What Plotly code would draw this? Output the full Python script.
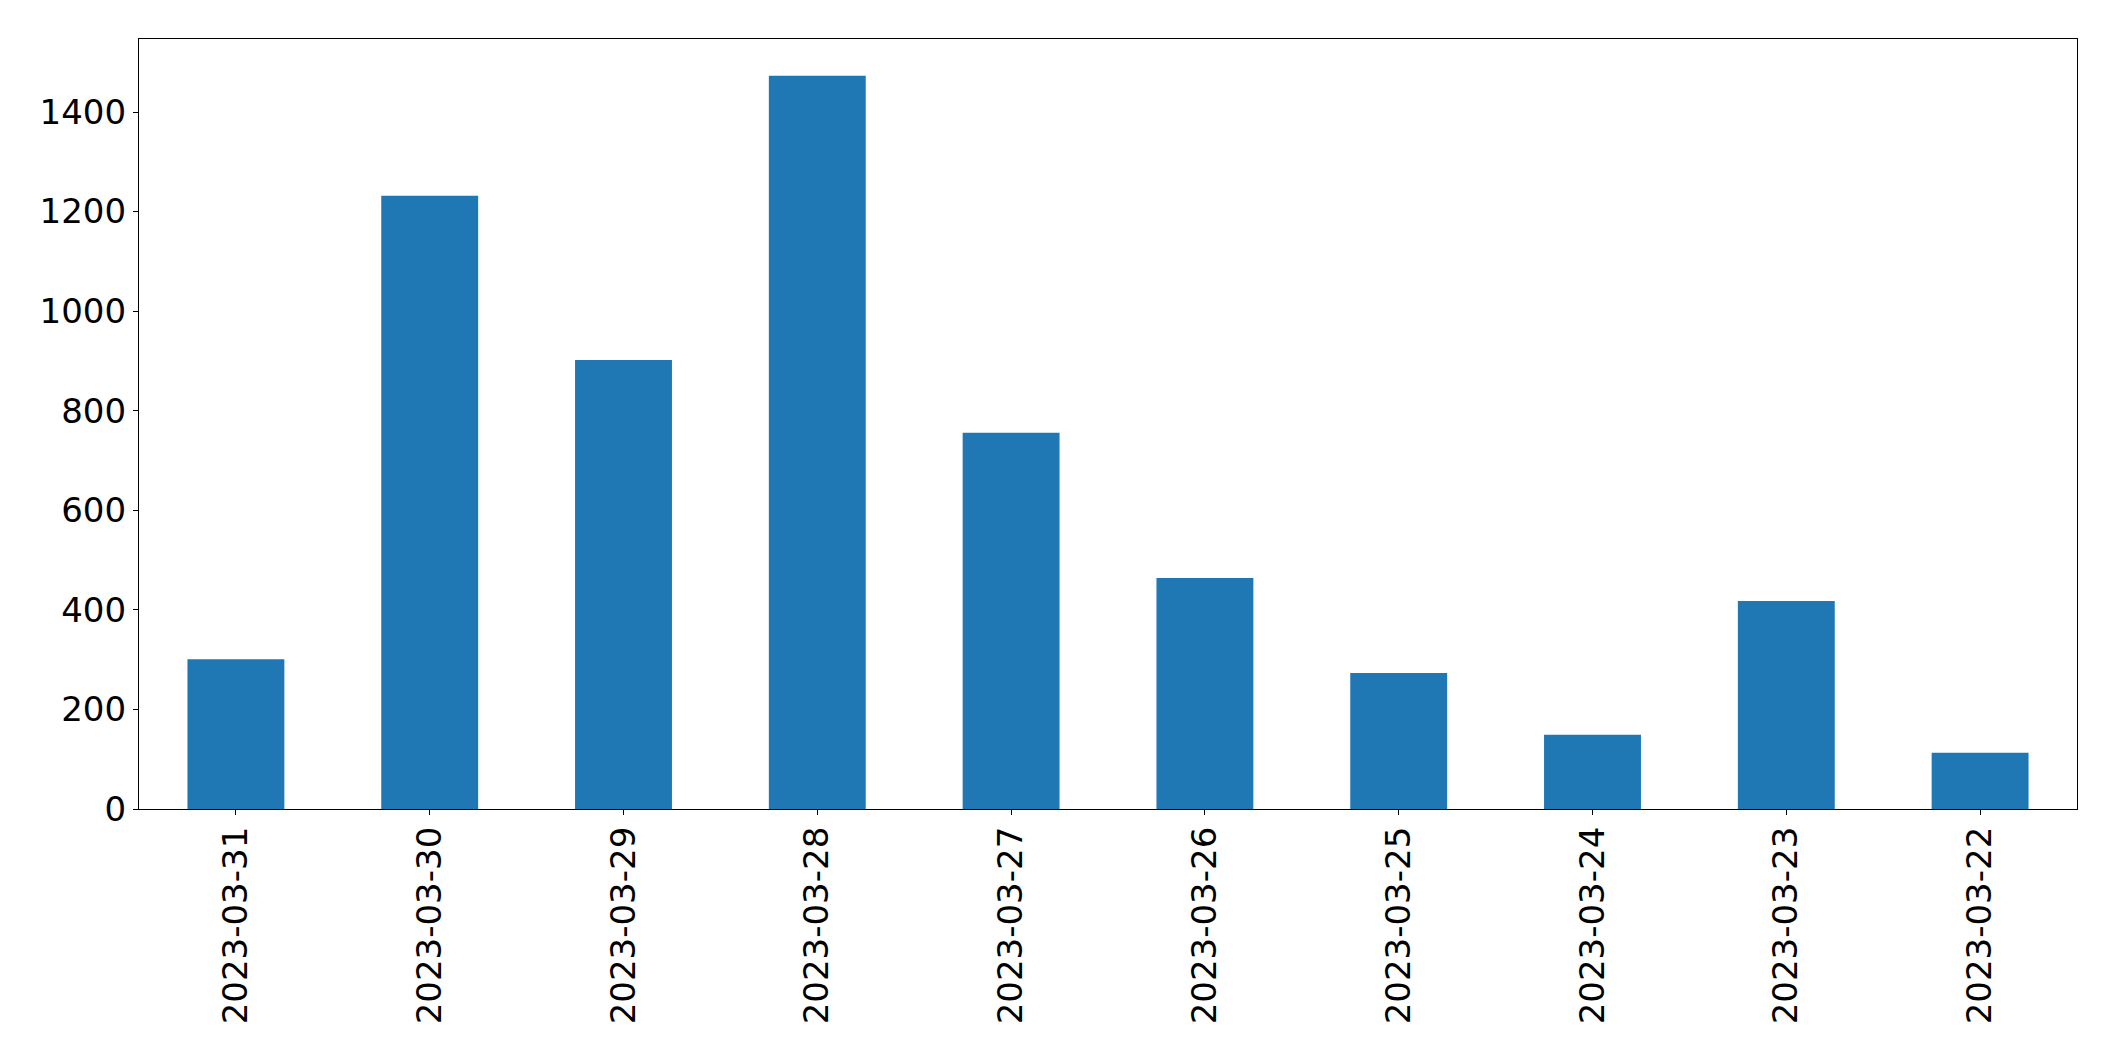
import plotly.graph_objects as go

dates = ["2023-03-31", "2023-03-30", "2023-03-29", "2023-03-28", "2023-03-27",
         "2023-03-26", "2023-03-25", "2023-03-24", "2023-03-23", "2023-03-22"]
counts = [301, 1232, 902, 1473, 756, 464, 273, 149, 418, 113]
y_ticks = [0, 200, 400, 600, 800, 1000, 1200, 1400]

fig = go.Figure(go.Bar(x=dates, y=counts, width=0.5, marker=dict(color="#1f77b4", line=dict(width=0))))

font = dict(family="DejaVu Sans", size=34, color="black")
fig.update_layout(
    width=2115, height=1061,
    margin=dict(l=131, r=46, t=31, b=260, autoexpand=False),
    paper_bgcolor="white", plot_bgcolor="white",
    showlegend=False,
    font=font,
)
fig.update_xaxes(
    type="category", range=[-0.5, len(dates) - 0.5],
    tickangle=-90, tickfont=font,
    showline=True, mirror=True, linecolor="black", linewidth=1.3,
    ticks="outside", ticklen=5, tickwidth=1.2, tickcolor="black",
    ticklabelstandoff=-2,
    showgrid=False, zeroline=False,
)
fig.update_yaxes(
    range=[0, max(counts) * 1.05], tickvals=y_ticks,
    tickfont=font,
    showline=True, mirror=True, linecolor="black", linewidth=1.3,
    ticks="outside", ticklen=5, tickwidth=1.2, tickcolor="black",
    showgrid=False, zeroline=False,
)
fig.write_html("out.html")
